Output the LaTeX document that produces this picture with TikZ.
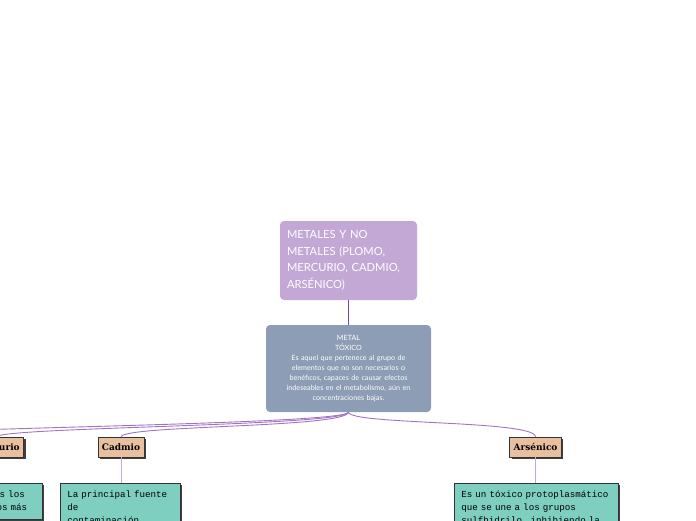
\documentclass[tikz,border=0pt]{standalone}
\usepackage{fontspec}
\setmainfont{Lato}
\setmonofont{Liberation Mono}
\newfontfamily\labelfont{DejaVu Serif}
\usepackage{xcolor}
\usetikzlibrary{positioning,shadows}
\definecolor{rootpurple}{RGB}{195,168,213}
\definecolor{slate}{RGB}{140,157,181}
\definecolor{tan}{RGB}{232,192,160}
\definecolor{teal}{RGB}{127,207,193}
\definecolor{darkline}{RGB}{120,70,165}
\definecolor{midline}{RGB}{160,115,196}
\definecolor{lightline}{RGB}{200,166,220}

\tikzset{
  rootbox/.style={fill=rootpurple,rounded corners=4pt,text=white,align=left,
    text width=123pt,inner xsep=7pt,minimum height=79pt,
    font=\fontsize{11.2}{16.5}\selectfont},
  topicbox/.style={fill=slate,rounded corners=4pt,text=white,align=center,
    text width=145pt,inner xsep=10pt,minimum height=87pt,
    font=\fontsize{7.2}{10}\selectfont},
  metalbox/.style={fill=tan,draw=black!80,line width=0.6pt,minimum height=20pt,
    inner xsep=4pt,inner ysep=0pt,font=\labelfont\bfseries\fontsize{9}{10}\selectfont,
    drop shadow={shadow xshift=2pt,shadow yshift=-2pt,opacity=1,fill=black!75}},
  notebox/.style={fill=teal,draw=black!80,line width=0.6pt,align=left,anchor=north west,
    inner xsep=7pt,inner ysep=8pt,font=\ttfamily\fontsize{9.2}{13}\selectfont,
    drop shadow={shadow xshift=2pt,shadow yshift=-2pt,opacity=1,fill=black!75}},
  branch/.style={midline,line width=0.9pt},
  twig/.style={lightline,line width=0.9pt}
}

\begin{document}
\begin{tikzpicture}[x=1pt,y=-1pt]
  \useasboundingbox (0,0) rectangle (696,520);
  \clip (0,0) rectangle (696,520);

  % main topic
  \node[rootbox] (root) at (348.5,260.5)
    {METALES Y NO\\METALES (PLOMO,\\MERCURIO, CADMIO,\\ARSÉNICO)};
  \node[topicbox] (metal) at (348.5,368.5)
    {METAL\\TÓXICO\\Es aquel que pertenece al grupo de\\elementos que no son necesarios o\\benéficos, capaces de causar efectos\\indeseables en el metabolismo, aún en\\concentraciones bajas.};
  \draw[darkline,line width=1.5pt] (root.south) -- (metal.north);

  % metals
  \node[metalbox,anchor=east] (mercurio) at (24,447) {Mercurio};
  \node[metalbox] (cadmio) at (121,447) {Cadmio};
  \node[metalbox] (arsenico) at (535.5,447) {Arsénico};
  \coordinate (plomo) at (-140,437);

  \draw[branch] (metal.south) .. controls (345,425) and (-120,428) .. (plomo);
  \draw[branch] (metal.south) .. controls (345,426) and (5,427) .. (mercurio.north);
  \draw[branch] (metal.south) .. controls (345,428) and (125,425) .. (cadmio.north);
  \draw[branch] (metal.south) .. controls (350,425) and (535,420) .. (arsenico.north);

  % notes
  \node[notebox,text width=108pt] (notemer) at (-80,483)
    {Uno entre todos los\\metales tóxicos más};
  \node[notebox,text width=106pt] (notecad) at (60,483)
    {La principal fuente\\de\\contaminación};
  \node[notebox,text width=150pt] (notears) at (454,483)
    {Es un tóxico protoplasmático\\que se une a los grupos\\sulfhidrilo, inhibiendo la};

  \draw[twig] (cadmio.south) -- (cadmio.south |- notecad.north);
  \draw[twig] (arsenico.south) -- (arsenico.south |- notears.north);
\end{tikzpicture}
\end{document}
